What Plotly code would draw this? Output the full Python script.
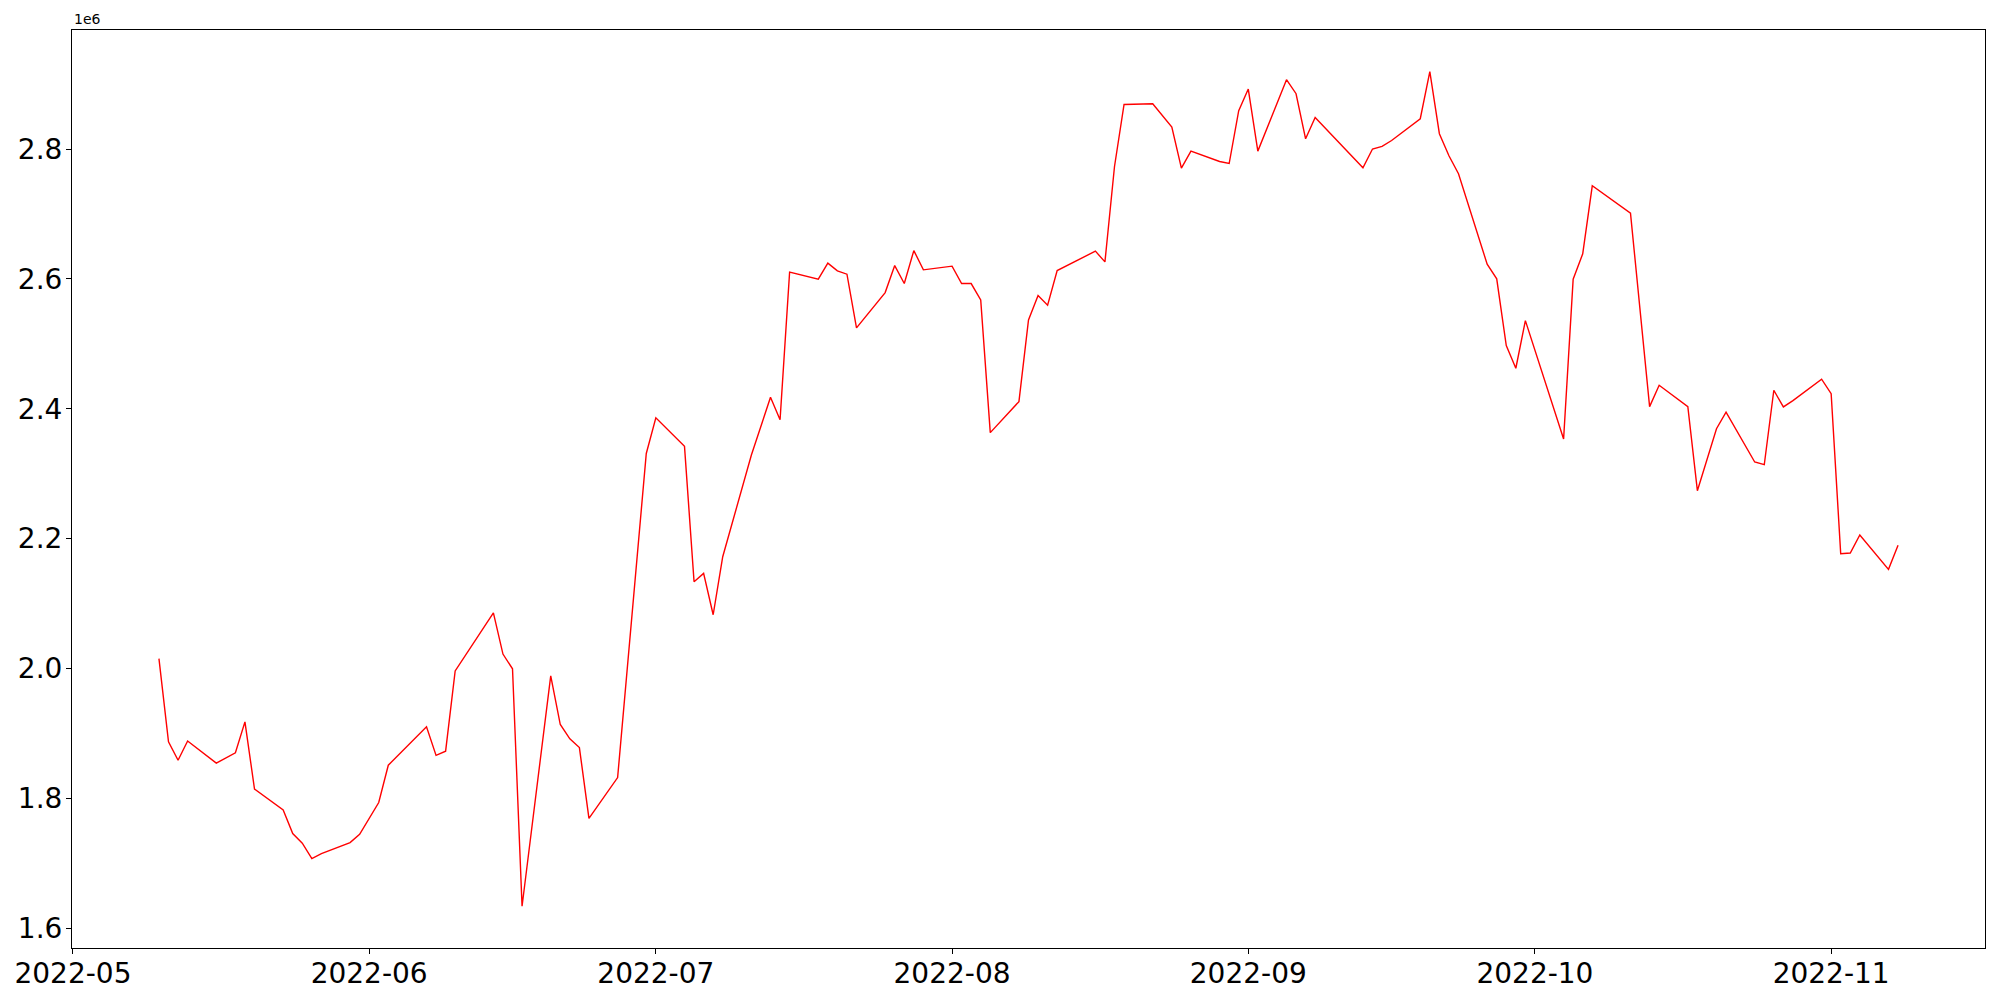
import pandas as pd

from plotly.graph_objects import Figure

# daily values, in raw units
dates = [
    "2022-05-10", "2022-05-11", "2022-05-12", "2022-05-13", "2022-05-16", "2022-05-18",
    "2022-05-19", "2022-05-20", "2022-05-23", "2022-05-24", "2022-05-25", "2022-05-26",
    "2022-05-27", "2022-05-30", "2022-05-31", "2022-06-02", "2022-06-03", "2022-06-07",
    "2022-06-08", "2022-06-09", "2022-06-10", "2022-06-14", "2022-06-15", "2022-06-16",
    "2022-06-17", "2022-06-20", "2022-06-21", "2022-06-22", "2022-06-23", "2022-06-24",
    "2022-06-27", "2022-06-30", "2022-07-01", "2022-07-04", "2022-07-05", "2022-07-06",
    "2022-07-07", "2022-07-08", "2022-07-11", "2022-07-12", "2022-07-13", "2022-07-14",
    "2022-07-15", "2022-07-18", "2022-07-19", "2022-07-20", "2022-07-21", "2022-07-22",
    "2022-07-25", "2022-07-26", "2022-07-27", "2022-07-28", "2022-07-29", "2022-08-01",
    "2022-08-02", "2022-08-03", "2022-08-04", "2022-08-05", "2022-08-08", "2022-08-09",
    "2022-08-10", "2022-08-11", "2022-08-12", "2022-08-16", "2022-08-17", "2022-08-18",
    "2022-08-19", "2022-08-22", "2022-08-24", "2022-08-25", "2022-08-26", "2022-08-29",
    "2022-08-30", "2022-08-31", "2022-09-01", "2022-09-02", "2022-09-05", "2022-09-06",
    "2022-09-07", "2022-09-08", "2022-09-13", "2022-09-14", "2022-09-15", "2022-09-16",
    "2022-09-19", "2022-09-20", "2022-09-21", "2022-09-22", "2022-09-23", "2022-09-26",
    "2022-09-27", "2022-09-28", "2022-09-29", "2022-09-30", "2022-10-04", "2022-10-05",
    "2022-10-06", "2022-10-07", "2022-10-11", "2022-10-13", "2022-10-14", "2022-10-17",
    "2022-10-18", "2022-10-20", "2022-10-21", "2022-10-24", "2022-10-25", "2022-10-26",
    "2022-10-27", "2022-10-28", "2022-10-31", "2022-11-01", "2022-11-02", "2022-11-03",
    "2022-11-04", "2022-11-07", "2022-11-08",
]

values = [
    2015000, 1887000, 1858500, 1888000, 1854000, 1870000,
    1917600, 1814000, 1782000, 1745500, 1730600, 1707000,
    1714700, 1731600, 1744400, 1793300, 1850800, 1910000,
    1866000, 1872400, 1996000, 2085600, 2022000, 1999300,
    1633500, 1988500, 1913500, 1891400, 1878000, 1769000,
    1831800, 2331000, 2386000, 2342000, 2133400, 2146300,
    2082600, 2172000, 2328700, 2372000, 2417600, 2383000,
    2610300, 2599500, 2624200, 2612300, 2607200, 2524500,
    2578900, 2620500, 2592800, 2643600, 2613900, 2619600,
    2592800, 2592800, 2567600, 2363100, 2410900, 2536800,
    2574300, 2559500, 2612800, 2642700, 2626200, 2773100,
    2868700, 2869800, 2833900, 2770600, 2796800, 2780800,
    2777700, 2859000, 2892400, 2796800, 2906800, 2885200,
    2815800, 2848700, 2771100, 2800000, 2804000, 2813200,
    2846700, 2919100, 2823600, 2789600, 2761900, 2622700,
    2600000, 2497200, 2462300, 2535700, 2353400, 2599500,
    2638600, 2743400, 2701300, 2403200, 2436100, 2403200,
    2273700, 2369200, 2394500, 2317900, 2313700, 2428400,
    2402700, 2412400, 2445400, 2423200, 2176500, 2177600,
    2205400, 2152500, 2189500,
]

y_ticks = [1.6e6, 1.8e6, 2.0e6, 2.2e6, 2.4e6, 2.6e6, 2.8e6]
y_tick_labels = ["1.6", "1.8", "2.0", "2.2", "2.4", "2.6", "2.8"]


def line_plot(s: pd.Series) -> Figure:
    fig = Figure()
    fig.add_scatter(x=s.index, y=s, mode="lines", line=dict(color="red", width=1.4))

    # matplotlib-like 5% autoscale margins
    xspan = s.index.max() - s.index.min()
    yspan = s.max() - s.min()
    xr = [s.index.min() - 0.05 * xspan, s.index.max() + 0.05 * xspan]
    yr = [s.min() - 0.05 * yspan, s.max() + 0.05 * yspan]

    axis = dict(
        showline=True, linecolor="black", linewidth=1, mirror=True,
        showgrid=False, zeroline=False, automargin=False,
        ticks="outside", ticklen=5, tickwidth=1, tickcolor="black",
        tickfont=dict(family="DejaVu Sans", size=28, color="black"),
    )
    fig.update_xaxes(range=xr, tickformat="%Y-%m", dtick="M1", tick0="2022-05-01",
                     ticklabelstandoff=-5, **axis)
    fig.update_yaxes(range=yr, tickvals=y_ticks, ticktext=y_tick_labels,
                     ticklabelstandoff=-2, **axis)

    fig.add_annotation(
        text="1e6", xref="paper", yref="paper", x=0, y=1, xanchor="left", yanchor="bottom",
        showarrow=False, font=dict(family="DejaVu Sans", size=14, color="black"), yshift=1,
    )

    # page body adds an 8px offset, so margins are shifted to compensate
    fig.update_layout(
        width=1992, height=992, showlegend=False,
        plot_bgcolor="white", paper_bgcolor="white",
        margin=dict(l=64, r=15, t=22, b=52, pad=0, autoexpand=False),
    )
    return fig


s = pd.Series(values, index=pd.to_datetime(dates))
fig = line_plot(s)
fig.write_html("out.html")
